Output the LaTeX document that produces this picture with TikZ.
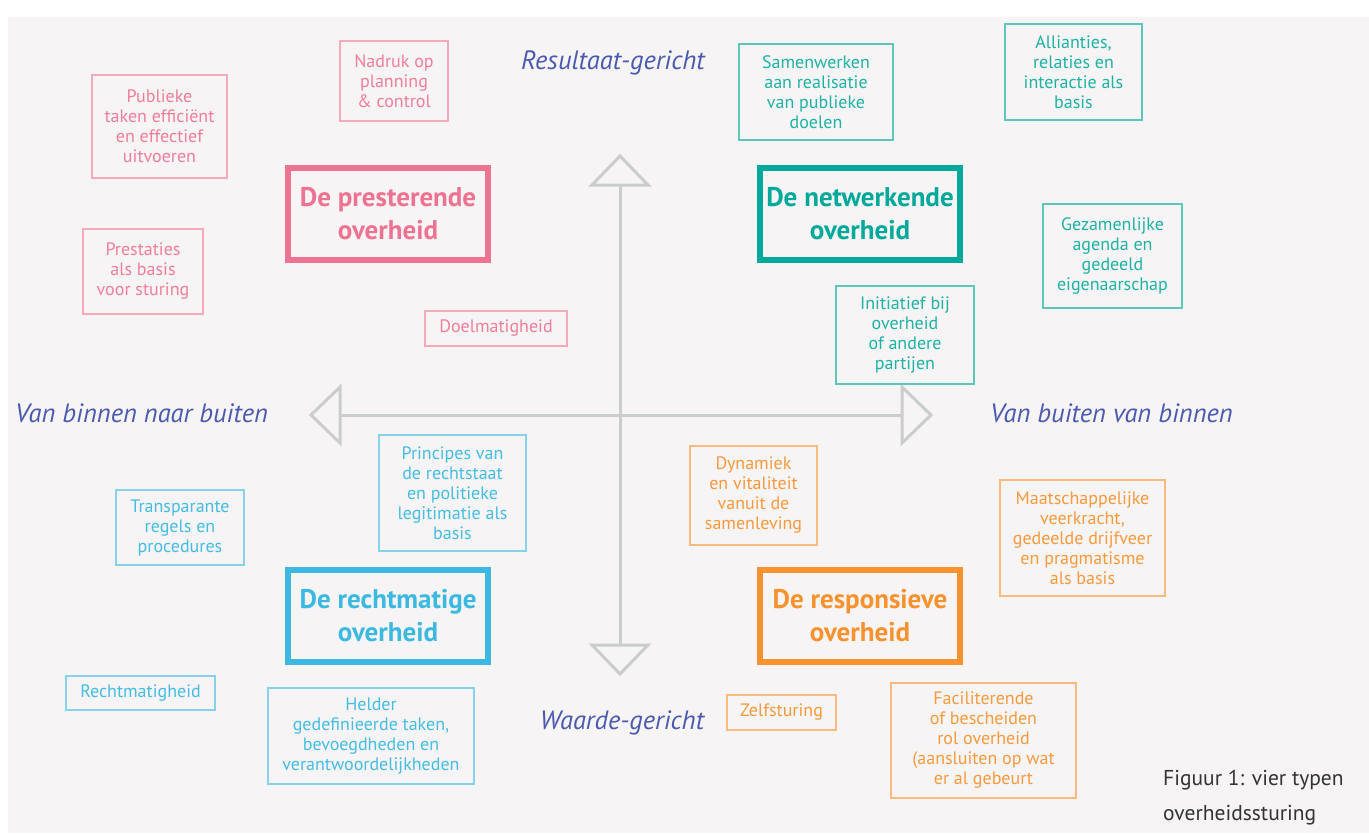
\documentclass[tikz,border=0pt]{standalone}
\usepackage{fontspec}
\setmainfont{PT Sans}
\begin{document}
\begin{tikzpicture}[x=1pt,y=-1pt]
\definecolor{bgc}{HTML}{F6F4F5}
\definecolor{axisc}{HTML}{C9CECD}
\definecolor{lblc}{HTML}{4B5AAE}
\definecolor{pinkM}{HTML}{EE7393}
\definecolor{pinkL}{HTML}{F5A9BC}
\definecolor{pinkT}{HTML}{F07E9A}
\definecolor{tealM}{HTML}{00A99A}
\definecolor{tealL}{HTML}{5CC8BC}
\definecolor{tealT}{HTML}{1FB2A4}
\definecolor{blueM}{HTML}{3BB9E0}
\definecolor{blueL}{HTML}{86D2EB}
\definecolor{blueT}{HTML}{45BDE2}
\definecolor{orM}{HTML}{F7922E}
\definecolor{orL}{HTML}{F9BA7E}
\definecolor{orT}{HTML}{F79A3E}
\definecolor{figc}{HTML}{333333}
\tikzset{
  mainbox/.style={draw, line width=6pt, minimum width=200pt, minimum height=92pt, align=center, inner sep=0pt,
    font=\fontsize{27}{33}\selectfont\bfseries},
  smallbox/.style={draw, line width=1.5pt, align=center, inner sep=0pt,
    font=\fontsize{18}{20}\selectfont},
  axislbl/.style={text=lblc, font=\fontsize{26.5}{30}\selectfont\itshape, inner sep=0pt},
  axisline/.style={draw=axisc, line width=3pt},
  arrowtri/.style={draw=axisc, line width=3pt, fill=bgc, line join=miter},
  pinkbox/.style={smallbox, draw=pinkL, text=pinkT},
  tealbox/.style={smallbox, draw=tealL, text=tealT},
  bluebox/.style={smallbox, draw=blueL, text=blueT},
  orbox/.style={smallbox, draw=orL, text=orT},
}
\useasboundingbox (0,0) rectangle (1369,835);
\fill[white] (0,0) rectangle (1369,835);
\fill[bgc] (8,17) rectangle (1369,833);

% axes
\coordinate (top) at (620,185);
\coordinate (bot) at (620,645);
\coordinate (lft) at (340,415);
\coordinate (rgt) at (902,415);
\draw[axisline] (top) -- (bot);
\draw[axisline] (lft) -- (rgt);
\draw[arrowtri] (592,185) -- (620,156) -- (648,185) -- cycle;
\draw[arrowtri] (592,645) -- (620,674) -- (648,645) -- cycle;
\draw[arrowtri] (340,387) -- (311,415) -- (340,443) -- cycle;
\draw[arrowtri] (902,387) -- (931,415) -- (902,443) -- cycle;

% axis labels
\node[axislbl] (lres) at (613,63) {Resultaat-gericht};
\node[axislbl] (lwaa) at (622,723) {Waarde-gericht};
\node[axislbl, anchor=west] (lbin) at (15,413) {Van binnen naar buiten};
\node[axislbl, anchor=west] (lbui) at (990,413) {Van buiten van binnen};

% main boxes
\node[mainbox, draw=pinkM, text=pinkM] (pres) at (388,214) {De presterende\\overheid};
\node[mainbox, draw=tealM, text=tealM] (netw) at (860,214) {De netwerkende\\overheid};
\node[mainbox, draw=blueM, text=blueM] (recht) at (388,616) {De rechtmatige\\overheid};
\node[mainbox, draw=orM, text=orM] (resp) at (860,616) {De responsieve\\overheid};

% pink
\node[pinkbox, minimum width=135pt, minimum height=103pt] (p1) at (159.5,126.5) {Publieke\\taken efficiënt\\en effectief\\uitvoeren};
\node[pinkbox, minimum width=108pt, minimum height=80pt] (p2) at (394,81) {Nadruk op\\planning\\\& control};
\node[pinkbox, minimum width=120pt, minimum height=85pt] (p3) at (143,271.5) {Prestaties\\als basis\\voor sturing};
\node[pinkbox, minimum width=142pt, minimum height=35pt] (p4) at (496,328.5) {Doelmatigheid};

% teal
\node[tealbox, minimum width=154pt, minimum height=96pt] (t1) at (816,92) {Samenwerken\\aan realisatie\\van publieke\\doelen};
\node[tealbox, minimum width=137pt, minimum height=96pt] (t2) at (1073.5,72) {Allianties,\\relaties en\\interactie als\\basis};
\node[tealbox, minimum width=139pt, minimum height=104pt] (t3) at (1112.5,256) {Gezamenlijke\\agenda en\\gedeeld\\eigenaarschap};
\node[tealbox, minimum width=138pt, minimum height=98pt] (t4) at (905,335) {Initiatief bij\\overheid\\of andere\\partijen};

% blue
\node[bluebox, minimum width=147pt, minimum height=116pt] (b1) at (452.5,493) {Principes van\\de rechtstaat\\en politieke\\legitimatie als\\basis};
\node[bluebox, minimum width=128pt, minimum height=75pt] (b2) at (180,527.5) {Transparante\\regels en\\procedures};
\node[bluebox, minimum width=149pt, minimum height=34pt] (b3) at (140.5,693) {Rechtmatigheid};
\node[bluebox, minimum width=206pt, minimum height=96pt] (b4) at (371,736) {Helder\\gedefinieerde taken,\\bevoegdheden en\\verantwoordelijkheden};

% orange
\node[orbox, minimum width=127pt, minimum height=99pt] (o1) at (753.5,495.5) {Dynamiek\\en vitaliteit\\vanuit de\\samenleving};
\node[orbox, minimum width=165pt, minimum height=116pt] (o2) at (1082.5,538) {Maatschappelijke\\veerkracht,\\gedeelde drijfveer\\en pragmatisme\\als basis};
\node[orbox, minimum width=109pt, minimum height=35pt] (o3) at (781.5,712.5) {Zelfsturing};
\node[orbox, minimum width=185pt, minimum height=115pt] (o4) at (983.5,740.5) {Faciliterende\\of bescheiden\\rol overheid\\(aansluiten op wat\\er al gebeurt};

% caption
\node[anchor=north west, align=left, text=figc, inner sep=0pt, font=\fontsize{21.5}{35}\selectfont] (cap) at (1163,770) {Figuur 1: vier typen\\overheidssturing};
\end{tikzpicture}
\end{document}
